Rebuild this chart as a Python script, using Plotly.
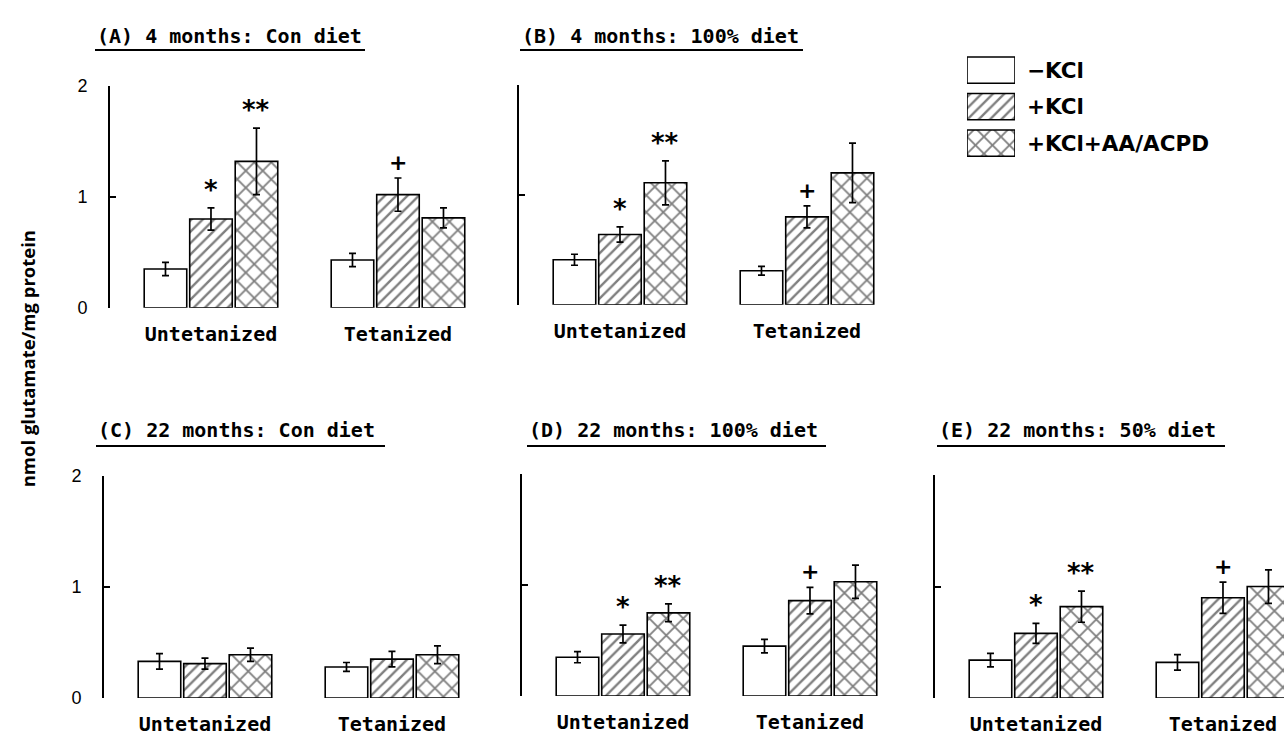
import plotly.graph_objects as go

# ---- data: glutamate release (nmol/mg protein), mean and SEM ----
panel_titles = [
    "(A) 4 months: Con diet",
    "(B) 4 months: 100% diet",
    "(C) 22 months: Con diet",
    "(D) 22 months: 100% diet",
    "(E) 22 months: 50% diet",
]
groups = ["Untetanized", "Tetanized"]
series_names = ["−KCl", "+KCl", "+KCl+AA/ACPD"]

# one [untetanized, tetanized] pair per panel
minus_kcl_mean = [[0.35, 0.43], [0.41, 0.31], [0.33, 0.28], [0.35, 0.45], [0.34, 0.32]]
minus_kcl_sem = [[0.06, 0.06], [0.05, 0.04], [0.07, 0.04], [0.05, 0.06], [0.06, 0.07]]
plus_kcl_mean = [[0.80, 1.02], [0.64, 0.80], [0.31, 0.35], [0.56, 0.86], [0.58, 0.90]]
plus_kcl_sem = [[0.10, 0.15], [0.07, 0.10], [0.05, 0.07], [0.08, 0.12], [0.09, 0.14]]
aa_acpd_mean = [[1.32, 0.81], [1.11, 1.20], [0.39, 0.39], [0.75, 1.03], [0.82, 1.00]]
aa_acpd_sem = [[0.30, 0.09], [0.20, 0.27], [0.06, 0.08], [0.08, 0.15], [0.14, 0.15]]

# significance marks per panel
sig_untet_kcl = ["*", "*", "", "*", "*"]
sig_untet_aa = ["**", "**", "", "**", "**"]
sig_tet_kcl = ["+", "+", "", "+", "+"]

y_ticks = [0, 1, 2]

# ---- styling ----
W, H = 1284, 744
MONO = "DejaVu Sans Mono"
patterns = [dict(shape=""), dict(shape="/", size=8, solidity=0.3),
            dict(shape="x", size=12, solidity=0.28)]
BARGAP = 0.27
BARGROUPGAP = 0.065
PX_PER_CAT = 187.0
X_LEFT = -0.54

# pixel frames of each panel: left edge of the y axis, y of value 0, y of value 2
frames = [
    (110, 306, 78),
    (519, 303, 77),
    (104, 707, 479),
    (522, 705, 477),
    (935, 707, 478),
]
PANEL_W = 366
# title text position (left x, centre y) and underline span
title_pos = [(95, 27, 365, 41), (520, 27, 803, 41), (96, 432, 385, 448),
             (527, 432, 826, 448), (937, 432, 1225, 448)]


def px(x):
    return x / W


def py(y):
    return 1 - y / H


fig = go.Figure()
means = [minus_kcl_mean, plus_kcl_mean, aa_acpd_mean]
sems = [minus_kcl_sem, plus_kcl_sem, aa_acpd_sem]

annotations = []
shapes = []
layout_axes = {}
slot = (1 - BARGAP) / 3

for p in range(5):
    n = "" if p == 0 else str(p + 1)
    xa, ya = "x" + n, "y" + n
    for s in range(3):
        fig.add_trace(go.Bar(
            x=[0, 1], y=means[s][p], xaxis=xa, yaxis=ya,
            name=series_names[s], showlegend=False,
            marker=dict(color="white", line=dict(color="black", width=1.6),
                        pattern=dict(fgcolor="black", bgcolor="white", **patterns[s])),
            error_y=dict(type="data", array=sems[s][p], color="black",
                         thickness=1.7, width=3.5),
        ))

    left, y0, y2 = frames[p]
    right = min(left + PANEL_W, W)
    x_right = X_LEFT + (right - left) / PX_PER_CAT
    layout_axes["xaxis" + n] = dict(
        domain=[px(left), px(right)], range=[X_LEFT, x_right], anchor=ya,
        tickvals=[0, 1], ticktext=groups, showline=False, showgrid=False,
        zeroline=False, ticks="", ticklabelstandoff=12,
        tickfont=dict(family=MONO, size=20, color="black", weight="bold"),
    )
    layout_axes["yaxis" + n] = dict(
        domain=[py(y0), py(y2)], range=[0, 2], anchor=xa,
        tickvals=y_ticks, ticks="inside", ticklen=6, tickwidth=1.6,
        tickcolor="black", showline=True, linewidth=1.6, linecolor="black",
        showgrid=False, zeroline=False, showticklabels=(p in (0, 2)),
        ticklabelstandoff=17,
        tickfont=dict(family="Liberation Sans", size=18, color="black"),
    )

    # panel title with underline
    tx, ty, ux, uy = title_pos[p]
    annotations.append(dict(
        text=panel_titles[p], xref="paper", yref="paper", x=px(tx), y=py(ty),
        xanchor="left", yanchor="middle", showarrow=False,
        font=dict(family=MONO, size=20, color="black", weight="bold"),
    ))
    shapes.append(dict(type="line", xref="paper", yref="paper",
                       x0=px(tx), x1=px(ux), y0=py(uy), y1=py(uy),
                       line=dict(color="black", width=2)))

    # significance marks above the error bars
    for g, s, mark in [(0, 1, sig_untet_kcl[p]), (0, 2, sig_untet_aa[p]),
                       (1, 1, sig_tet_kcl[p])]:
        if not mark:
            continue
        top = means[s][p][g] + sems[s][p][g]
        annotations.append(dict(
            text=mark, xref=xa, yref=ya, x=g + (s - 1) * slot, y=top,
            xanchor="center", yanchor="bottom", yshift=1, showarrow=False,
            font=dict(family="DejaVu Sans", size=26 if mark != "+" else 22,
                      color="black", weight="bold"),
        ))

# legend swatches drawn as horizontal bars in a small axis
legend_top, legend_pitch = 43, 37.5
fig.add_trace(go.Bar(
    x=[1, 1, 1], y=[0, 1, 2], orientation="h", width=0.72,
    xaxis="x6", yaxis="y6", showlegend=False, hoverinfo="skip",
    marker=dict(color="white", line=dict(color="black", width=1.6),
                pattern=dict(fgcolor="black", bgcolor="white",
                             shape=["", "/", "x"], size=[8, 8, 12],
                             solidity=[0.1, 0.3, 0.28])),
))
layout_axes["xaxis6"] = dict(domain=[px(967), px(1015)], range=[0, 1], anchor="y6",
                             visible=False, fixedrange=True)
layout_axes["yaxis6"] = dict(domain=[py(legend_top + 3 * legend_pitch), py(legend_top)],
                             range=[2.5, -0.5], anchor="x6", visible=False)
for i, name in enumerate(series_names):
    annotations.append(dict(
        text=name, xref="paper", yref="y6", x=px(1025), y=i,
        xanchor="left", yanchor="middle", showarrow=False,
        font=dict(family="DejaVu Sans", size=21.5, color="black", weight="bold"),
    ))

# shared y-axis title
annotations.append(dict(
    text="nmol glutamate/mg protein", xref="paper", yref="paper",
    x=px(27), y=py(359), textangle=-90, showarrow=False,
    xanchor="center", yanchor="middle",
    font=dict(family="Open Sans", size=18.5, color="black", weight="bold"),
))

fig.update_layout(
    width=W, height=H, margin=dict(l=0, r=0, t=0, b=0),
    paper_bgcolor="white", plot_bgcolor="rgba(0,0,0,0)",
    barmode="group", bargap=BARGAP, bargroupgap=BARGROUPGAP,
    annotations=annotations, shapes=shapes, showlegend=False,
    **layout_axes,
)

fig.write_html("out.html")
